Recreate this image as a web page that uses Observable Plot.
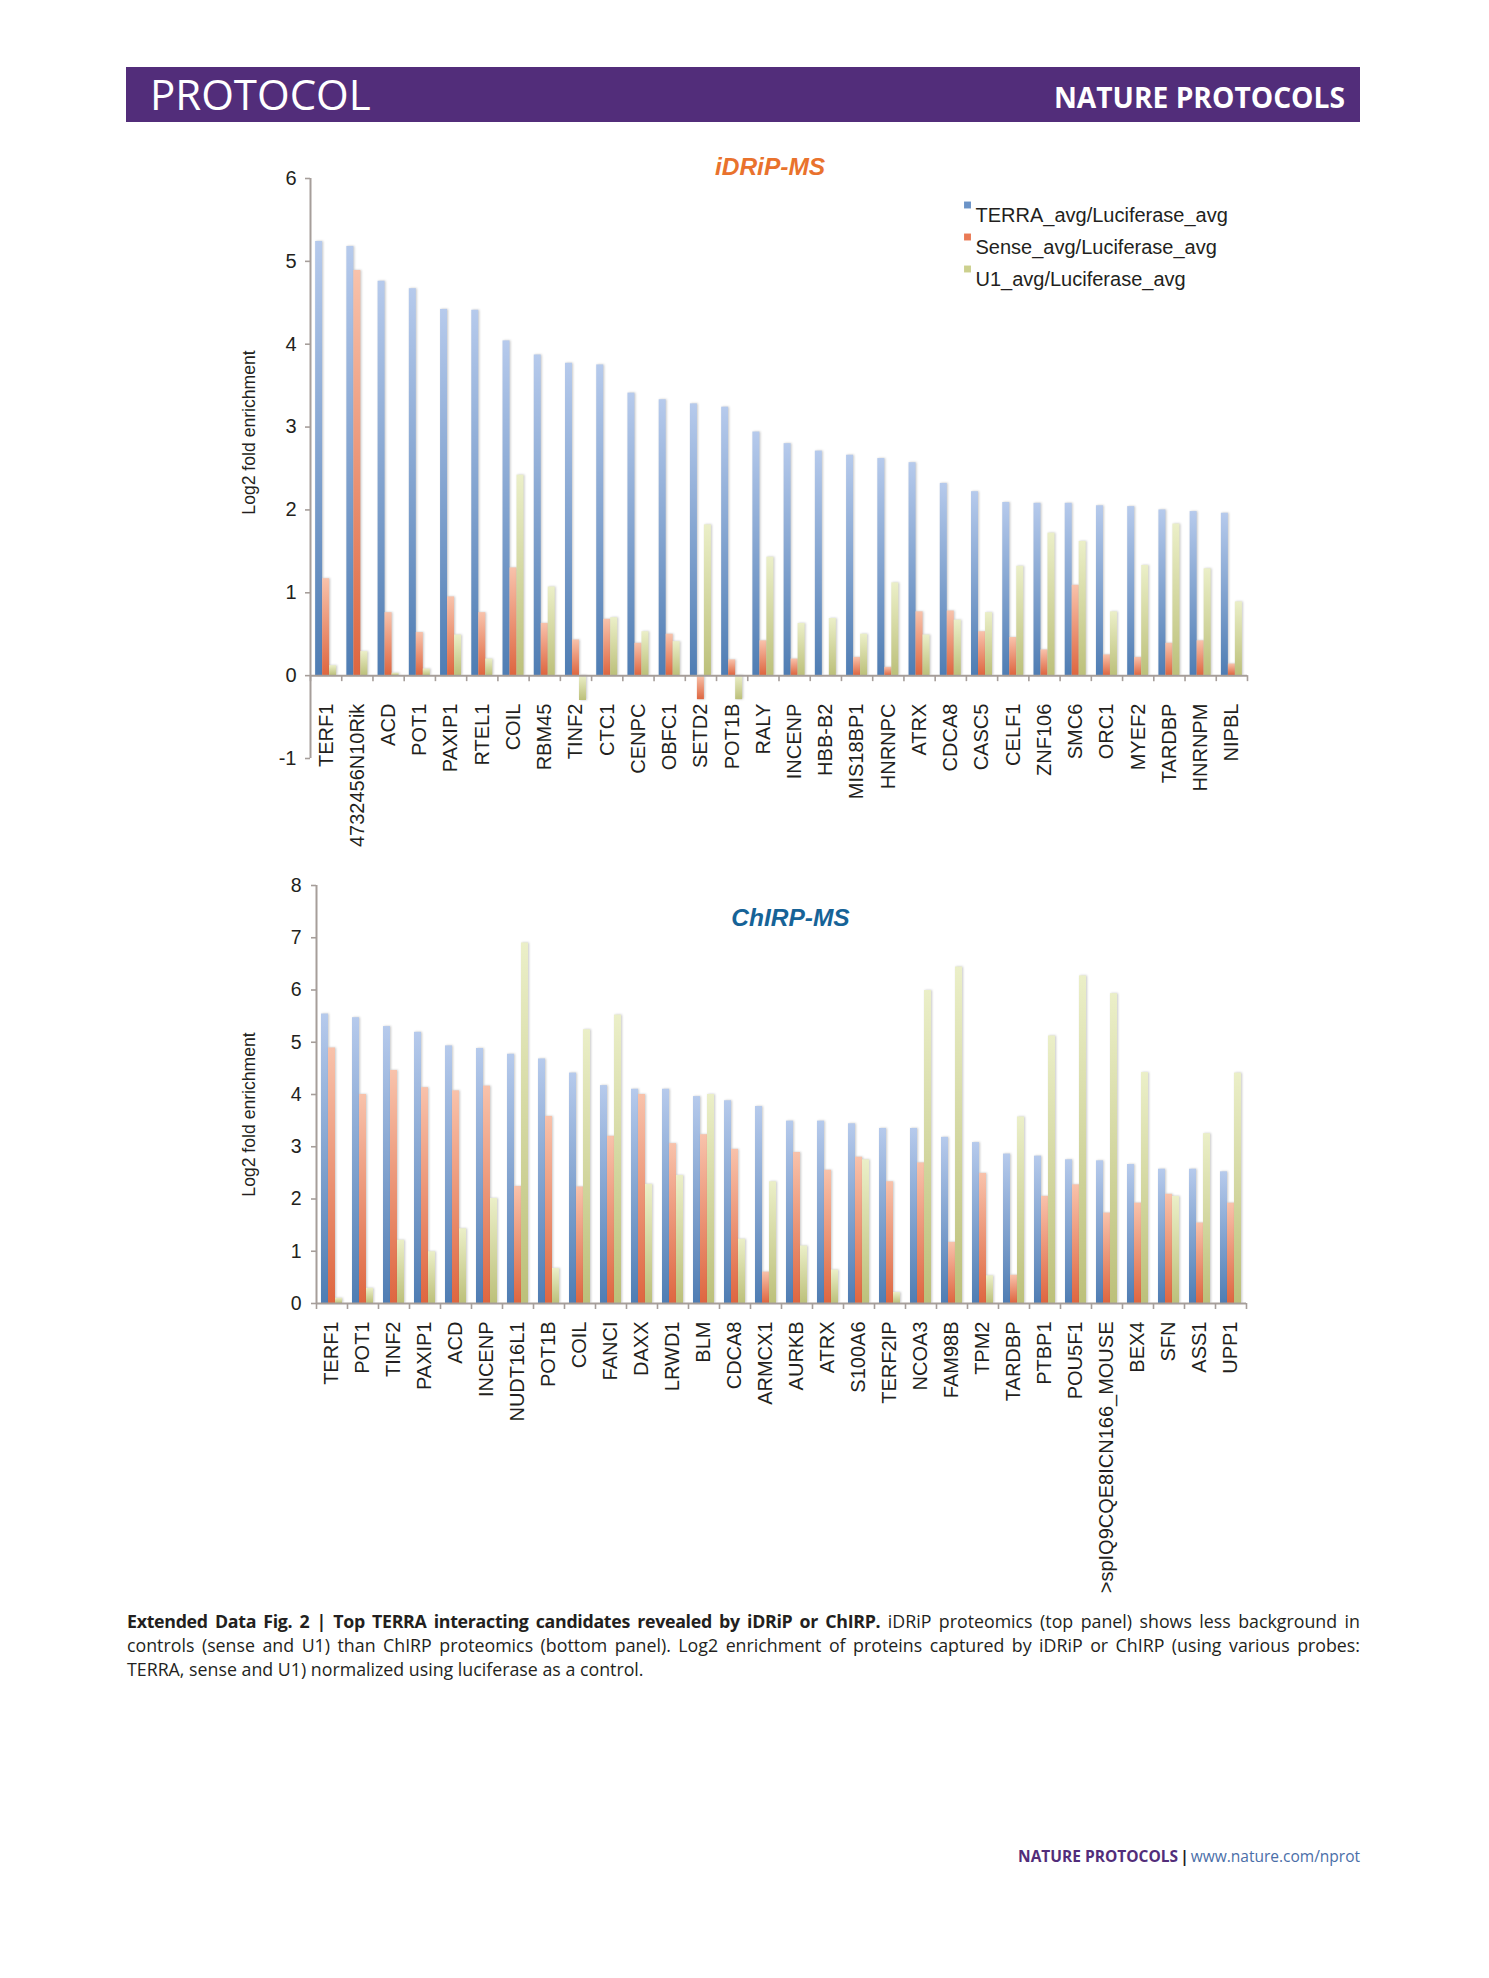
<!DOCTYPE html>
<html><head><meta charset="utf-8">
<script src="https://cdn.jsdelivr.net/npm/d3@7"></script>
<script src="https://cdn.jsdelivr.net/npm/@observablehq/plot@0.6"></script>
<style>
html,body{margin:0;padding:0;background:#fff;}
body{position:relative;width:1489px;height:1978px;overflow:hidden;font-family:"Open Sans",sans-serif;}
#bar{position:absolute;left:126px;top:67px;width:1234px;height:55px;background:#522d7a;}
#protocol{position:absolute;left:150px;top:72.7px;font-size:42px;line-height:42px;color:#fff;font-weight:400;white-space:nowrap;}
#np{position:absolute;right:144px;top:82.5px;font-size:28.2px;line-height:28.2px;font-weight:700;color:#fff;white-space:nowrap;}
.chart{position:absolute;left:0;}
#c1{top:130px;} #c2{top:860px;}
#caption{position:absolute;left:127px;top:1608.8px;width:1233px;font-size:17.8px;line-height:24px;color:#231f20;}
#caption b{letter-spacing:-0.3px;}
#caption .l{display:block;text-align:justify;text-align-last:justify;white-space:nowrap;}
#caption .last{display:block;white-space:nowrap;}
#footer{position:absolute;right:129px;top:1846px;font-size:15.5px;line-height:20px;white-space:nowrap;}
</style>
</head>
<body>
<svg width="0" height="0" style="position:absolute">
  <defs>
    <linearGradient id="gTerra" x1="0" y1="0" x2="0" y2="1">
      <stop offset="0" stop-color="#b6caec"/><stop offset="1" stop-color="#4f7db3"/>
    </linearGradient>
    <linearGradient id="gSense" x1="0" y1="0" x2="0" y2="1">
      <stop offset="0" stop-color="#f8c2ab"/><stop offset="1" stop-color="#de6640"/>
    </linearGradient>
    <linearGradient id="gU1" x1="0" y1="0" x2="0" y2="1">
      <stop offset="0" stop-color="#ebefc8"/><stop offset="1" stop-color="#bcc07a"/>
    </linearGradient>
  </defs>
</svg>
<div id="bar"></div>
<div id="protocol">PROTOCOL</div>
<div id="np">NATURE PROTOCOLS</div>
<div id="c1" class="chart"></div>
<div id="c2" class="chart"></div>
<div id="caption">
<span class="l"><b>Extended Data Fig. 2 | Top TERRA interacting candidates revealed by iDRiP or ChIRP.</b> iDRiP proteomics (top panel) shows less background in</span>
<span class="l">controls (sense and U1) than ChIRP proteomics (bottom panel). Log2 enrichment of proteins captured by iDRiP or ChIRP (using various probes:</span>
<span class="last">TERRA, sense and U1) normalized using luciferase as a control.</span>
</div>
<div id="footer"><b style="color:#522d7a">NATURE PROTOCOLS</b><b style="color:#231f20;margin:0 2px">|</b><span style="color:#4a6ea8">www.nature.com/nprot</span></div>
<script>
// ---- data ----
const series = ["TERRA_avg/Luciferase_avg", "Sense_avg/Luciferase_avg", "U1_avg/Luciferase_avg"];

const idripGenes = ["TERF1","4732456N10Rik","ACD","POT1","PAXIP1","RTEL1","COIL","RBM45","TINF2","CTC1","CENPC","OBFC1","SETD2","POT1B","RALY","INCENP","HBB-B2","MIS18BP1","HNRNPC","ATRX","CDCA8","CASC5","CELF1","ZNF106","SMC6","ORC1","MYEF2","TARDBP","HNRNPM","NIPBL"];
const idripTerra = [5.24,5.18,4.76,4.67,4.42,4.41,4.04,3.87,3.77,3.75,3.41,3.33,3.28,3.24,2.94,2.80,2.71,2.66,2.62,2.57,2.32,2.22,2.09,2.08,2.08,2.05,2.04,2.00,1.98,1.96];
const idripSense = [1.17,4.89,0.76,0.52,0.95,0.76,1.30,0.63,0.43,0.68,0.39,0.50,-0.29,0.19,0.42,0.20,0,0.22,0.10,0.77,0.78,0.53,0.46,0.31,1.09,0.25,0.22,0.39,0.42,0.14];
const idripU1 = [0.12,0.29,0.03,0.08,0.49,0.20,2.42,1.07,-0.30,0.70,0.53,0.41,1.82,-0.29,1.43,0.63,0.69,0.50,1.12,0.49,0.67,0.76,1.32,1.72,1.62,0.77,1.33,1.83,1.29,0.89];
const idripTicks = [-1,0,1,2,3,4,5,6];

const chirpGenes = ["TERF1","POT1","TINF2","PAXIP1","ACD","INCENP","NUDT16L1","POT1B","COIL","FANCI","DAXX","LRWD1","BLM","CDCA8","ARMCX1","AURKB","ATRX","S100A6","TERF2IP","NCOA3","FAM98B","TPM2","TARDBP","PTBP1","POU5F1",">spIQ9CQE8ICN166_MOUSE","BEX4","SFN","ASS1","UPP1"];
const chirpTerra = [5.54,5.47,5.30,5.19,4.93,4.88,4.77,4.68,4.41,4.17,4.10,4.10,3.96,3.88,3.77,3.49,3.49,3.44,3.35,3.35,3.18,3.08,2.86,2.82,2.75,2.73,2.66,2.57,2.57,2.52];
const chirpSense = [4.89,4.00,4.46,4.13,4.07,4.16,2.24,3.58,2.23,3.20,4.00,3.06,3.23,2.95,0.60,2.89,2.55,2.80,2.33,2.69,1.17,2.49,0.54,2.05,2.27,1.73,1.92,2.09,1.54,1.92];
const chirpU1 = [0.10,0.29,1.21,0.99,1.43,2.01,6.90,0.67,5.24,5.52,2.28,2.45,4.00,1.23,2.33,1.10,0.64,2.75,0.21,5.99,6.44,0.53,3.57,5.12,6.27,5.93,4.42,2.05,3.25,4.41];
const chirpTicks = [0,1,2,3,4,5,6,7,8];

const yLabel = "Log2 fold enrichment";

// ---- styles ----
const seriesFill = ["url(#gTerra)", "url(#gSense)", "url(#gU1)"];
const seriesKey = ["#6b93c7", "#ea7a55", "#ccd08e"];
const axisColor = "#a69e9a";
const textColor = "#231f20";
const W = 1489;

function grouped(genes, cols) {
  return genes.flatMap((gene, i) => cols.map((col, k) => ({gene, k, series: series[k], value: col[i]})));
}

function panel(o) {
  const bw = (W - o.mL - o.mR) / o.genes.length;
  const barW = 7;
  const off = (bw - 3 * barW) / 2;
  const rows = grouped(o.genes, o.cols);
  const marks = [];
  [0, 1, 2].forEach(k => {
    marks.push(Plot.barY(rows.filter(d => d.k === k), {
      x: "gene", y1: () => 0, y2: "value", fill: seriesFill[k],
      insetLeft: off + k * barW, insetRight: bw - off - (k + 1) * barW
    }));
  });
  // axis lines
  marks.push(Plot.ruleY([0], {stroke: axisColor, strokeWidth: 2}));
  marks.push(Plot.ruleX([o.genes[0]], {x: d => d, dx: -bw / 2, stroke: axisColor, strokeWidth: 2}));
  // category boundary ticks
  marks.push(Plot.ruleX(o.genes, {x: d => d, y1: () => 0, y2: () => 0, insetBottom: -6, dx: -bw / 2, stroke: axisColor, strokeWidth: 1.6}));
  marks.push(Plot.ruleX([o.genes[o.genes.length - 1]], {x: d => d, y1: () => 0, y2: () => 0, insetBottom: -6, dx: bw / 2, stroke: axisColor, strokeWidth: 1.6}));
  // y axis
  marks.push(Plot.axisY({ticks: o.ticks, tickFormat: d => String(d), tickSize: 5, tickPadding: o.tickPad,
    label: null, fontSize: o.tickFont, stroke: axisColor, strokeWidth: 1.6, fill: textColor}));
  // category labels
  marks.push(Plot.text(o.genes, {x: d => d, y: () => 0, text: d => d, rotate: -90, textAnchor: "end",
    lineAnchor: "middle", dy: o.labelDy, fontSize: 20, fill: textColor}));
  // y label
  marks.push(Plot.text([yLabel], {text: d => d, frameAnchor: "left", textAnchor: "middle", lineAnchor: "middle",
    rotate: -90, dx: o.yLabelDx, dy: o.yLabelDy, fontSize: 17.6, fill: textColor}));
  // title
  marks.push(Plot.text([o.title], {text: d => d, frameAnchor: "top", textAnchor: "middle", dx: o.titleDx, dy: o.titleDy, fontSize: 24.5,
    fontWeight: "bold", fontStyle: "italic", fill: o.titleColor}));
  // legend
  if (o.legend) {
    series.forEach((s, k) => {
      marks.push(Plot.dot([s], {frameAnchor: "top-left", dx: 657, dy: 26.5 + 32 * k, symbol: "square", r: 3.9, fill: seriesKey[k], stroke: "none"}));
      marks.push(Plot.text([s], {text: d => d, frameAnchor: "top-left", textAnchor: "start", dx: 665, dy: 29 + 32 * k, fontSize: 20, fill: textColor}));
    });
  }
  const svg = Plot.plot({
    width: W, height: o.height,
    marginTop: o.mT, marginBottom: o.mB, marginLeft: o.mL, marginRight: o.mR,
    x: {type: "band", domain: o.genes, padding: 0, round: false, axis: null},
    y: {domain: o.yDomain, axis: null},
    style: {fontFamily: "'Liberation Sans', Arial, Helvetica, sans-serif", color: textColor, background: "transparent", overflow: "visible", maxWidth: "none"},
    marks
  });
  svg.querySelectorAll('g[aria-label="bar"]').forEach(g => { g.style.filter = "drop-shadow(1.2px 0px 0.8px rgba(0,0,0,0.22))"; });
  return svg;
}

document.getElementById("c1").append(panel({
  genes: idripGenes, cols: [idripTerra, idripSense, idripU1], ticks: idripTicks, yDomain: [-1, 6],
  height: 730, mT: 48, mB: 102, mL: 310, mR: 242,
  tickPad: 9, tickFont: 20, labelDy: 28, yLabelDx: -61, yLabelDy: -36,
  title: "iDRiP-MS", titleColor: "#e9722d", titleDx: -9, titleDy: -21, legend: true
}));

document.getElementById("c2").append(panel({
  genes: chirpGenes, cols: [chirpTerra, chirpSense, chirpU1], ticks: chirpTicks, yDomain: [0, 8],
  height: 748, mT: 25, mB: 305, mL: 316, mR: 243,
  tickPad: 10, tickFont: 19.5, labelDy: 18, yLabelDx: -67, yLabelDy: 20,
  title: "ChIRP-MS", titleColor: "#166397", titleDx: 9, titleDy: 23, legend: false
}));
</script>
</body></html>
